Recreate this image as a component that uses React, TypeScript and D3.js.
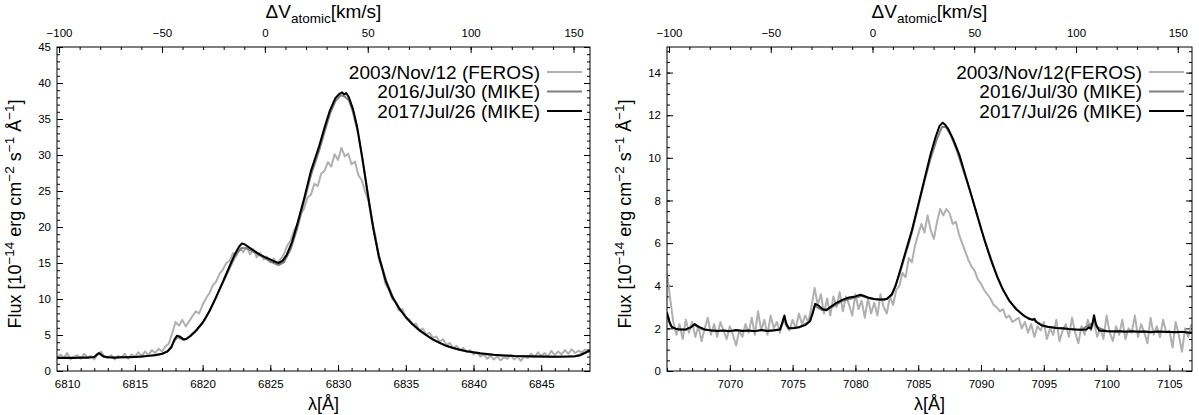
import * as d3 from 'd3';
import React, { useRef, useEffect } from 'react';

// ---- panel 1: Raman O VI 6825 ----
const waveDomain6825 = [6809.25, 6848.6];
const velDomain6825 = [-101, 158];
const fluxMax6825 = 45;
const waveTicks6825 = [6810, 6815, 6820, 6825, 6830, 6835, 6840, 6845];
const fluxTicks6825 = [0, 5, 10, 15, 20, 25, 30, 35, 40, 45];
const legend6825 = ['2003/Nov/12 (FEROS)', '2016/Jul/30 (MIKE)', '2017/Jul/26 (MIKE)'];

// FEROS spectrum, sampled every 0.25 A from 6809.0 (8 values per row = 2 A)
const ferosStart6825 = 6809.0;
const feros6825 = [
  2.1, 1.7, 2.3, 1.8, 2.5, 1.6, 2.0, 2.2,
  1.7, 2.4, 1.9, 2.1, 1.6, 2.3, 2.7, 2.0,
  1.8, 2.2, 1.6, 2.1, 1.9, 2.4, 1.7, 2.3,
  2.0, 2.6, 2.1, 2.7, 2.2, 2.9, 2.5, 3.1,
  2.7, 3.4, 3.8, 5.2, 6.8, 6.3, 7.1, 6.2,
  6.9, 7.6, 8.3, 8.0, 9.2, 10.1, 10.8, 11.9,
  12.4, 13.5, 14.1, 15.0, 15.3, 16.4, 16.0, 17.1,
  16.5, 17.3, 16.2, 16.9, 15.8, 16.4, 15.5, 15.9,
  15.1, 15.6, 14.9, 15.5, 16.2, 17.4, 18.1, 19.5,
  20.3, 21.8, 22.6, 24.1, 24.5, 26.0, 25.7, 27.4,
  27.8, 29.0, 28.4, 30.1, 29.3, 31.0, 29.8, 30.2,
  28.7, 29.1, 27.2, 26.5, 24.9, 23.6, 20.8, 18.9,
  15.6, 14.2, 12.1, 11.3, 10.0, 9.6, 8.4, 8.6,
  7.5, 7.1, 6.4, 6.6, 5.6, 5.9, 5.1, 5.3,
  4.6, 4.8, 4.1, 4.4, 3.6, 3.9, 3.2, 3.5,
  2.9, 3.2, 2.6, 2.9, 2.3, 2.6, 2.0, 2.3,
  1.7, 2.1, 1.6, 2.0, 1.5, 1.9, 1.7, 2.2,
  1.6, 2.0, 1.4, 2.1, 1.8, 2.4, 1.9, 2.6,
  2.1, 2.5, 2.0, 2.8, 2.2, 2.7, 2.3, 2.9,
  2.4, 3.0, 2.5, 2.8, 2.6, 3.0, 2.7, 3.1,
];

const mike2016_6825 = [
  [6809, 1.9], [6810, 1.85], [6811, 1.9], [6812, 1.95], [6812.35, 2.4], [6812.7, 2.0], [6813.5, 1.9],
  [6815, 1.95], [6816, 2.1], [6817, 2.35], [6817.5, 2.9], [6817.9, 4.1], [6818.15, 4.7], [6818.6, 4.3],
  [6819.1, 4.8], [6819.6, 5.7], [6820.2, 7.2], [6820.8, 9.4], [6821.4, 11.9], [6822, 14.3], [6822.5, 16.3],
  [6822.9, 17.1], [6823.3, 17.0], [6823.8, 16.5], [6824.4, 15.9], [6825, 15.2], [6825.6, 14.7], [6826, 15.1],
  [6826.5, 16.9], [6827, 19.9], [6827.5, 23.6], [6828, 27.2], [6828.6, 30.6], [6829, 33.2], [6829.4, 35.7],
  [6829.8, 37.5], [6830.2, 38.3], [6830.5, 38.1], [6830.8, 37.6], [6831.1, 36.0], [6831.5, 32.8], [6831.9, 28.2],
  [6832.3, 23.3], [6832.7, 18.9], [6833.1, 15.4], [6833.6, 12.3], [6834.1, 10.0], [6835, 7.4], [6836, 5.6],
  [6837, 4.35], [6838, 3.45], [6839, 2.9], [6840, 2.55], [6841, 2.3], [6842, 2.15], [6844, 2.02], [6846, 1.97],
  [6847.5, 2.05], [6848.4, 2.6], [6848.7, 2.8],
];

const mike2017_6825 = [
  [6809.0, 1.85], [6809.5, 1.8], [6810, 1.85], [6810.5, 1.8], [6811, 1.85], [6811.5, 1.85], [6812, 1.95],
  [6812.2, 2.3], [6812.35, 2.5], [6812.5, 2.3], [6812.7, 2.0], [6813, 1.9], [6813.5, 1.85], [6814, 1.9],
  [6814.5, 1.9], [6815, 1.95], [6815.5, 2.0], [6816, 2.1], [6816.5, 2.2], [6817, 2.4], [6817.4, 2.7],
  [6817.7, 3.3], [6817.9, 4.3], [6818.1, 4.9], [6818.3, 4.8], [6818.6, 4.4], [6818.8, 4.45], [6819.1, 4.9],
  [6819.5, 5.6], [6820, 6.7], [6820.5, 8.3], [6821, 10.3], [6821.5, 12.4], [6822, 14.6], [6822.4, 16.3],
  [6822.7, 17.3], [6822.9, 17.7], [6823.1, 17.6], [6823.4, 17.2], [6823.8, 16.7], [6824.2, 16.2], [6824.6, 15.8],
  [6825, 15.5], [6825.3, 15.2], [6825.6, 15.0], [6825.9, 15.3], [6826.2, 16.1], [6826.6, 17.9], [6827, 20.5],
  [6827.5, 24.0], [6828, 27.8], [6828.3, 29.5], [6828.6, 31.2], [6829, 33.8], [6829.4, 36.2], [6829.8, 37.9],
  [6830.1, 38.5], [6830.3, 38.7], [6830.45, 38.4], [6830.6, 38.6], [6830.8, 38.0], [6831.1, 36.4], [6831.4, 34.0],
  [6831.8, 29.5], [6832.2, 24.5], [6832.6, 19.8], [6833, 16.0], [6833.5, 12.6], [6834, 10.3], [6834.5, 8.7],
  [6835, 7.5], [6835.5, 6.5], [6836, 5.7], [6836.5, 5.0], [6837, 4.4], [6837.5, 3.9], [6838, 3.5],
  [6838.5, 3.2], [6839, 2.95], [6839.5, 2.75], [6840, 2.6], [6840.5, 2.45], [6841, 2.35], [6841.5, 2.25],
  [6842, 2.2], [6843, 2.1], [6844, 2.05], [6845, 2.0], [6846, 1.98], [6847, 2.0], [6847.5, 2.05],
  [6847.9, 2.2], [6848.2, 2.5], [6848.4, 2.7], [6848.7, 2.9],
];

// ---- panel 2: Raman O VI 7082 ----
const waveDomain7082 = [7065.0, 7106.8];
const velDomain7082 = [-101, 157];
const fluxMax7082 = 15.2;
const waveTicks7082 = [7070, 7075, 7080, 7085, 7090, 7095, 7100, 7105];
const fluxTicks7082 = [0, 2, 4, 6, 8, 10, 12, 14];
const legend7082 = ['2003/Nov/12(FEROS)', '2016/Jul/30 (MIKE)', '2017/Jul/26 (MIKE)'];

const ferosStart7082 = 7065.0;
const feros7082 = [
  4.6, 3.4, 2.3, 1.7, 2.2, 1.5, 2.4, 1.8,
  2.3, 1.6, 2.1, 1.4, 2.0, 2.5, 1.7, 2.2,
  1.6, 2.3, 1.9, 1.5, 2.1, 1.7, 1.2, 1.9,
  1.6, 2.2, 1.8, 2.5, 1.7, 2.8, 1.9, 2.4,
  1.7, 2.6, 2.0, 2.3, 1.8, 2.5, 2.1, 1.9,
  2.4, 2.0, 2.7, 2.2, 2.6, 2.3, 3.0, 3.9,
  3.1, 3.6, 2.7, 3.4, 2.6, 3.5, 3.0, 3.7,
  2.8, 3.5, 3.1, 2.6, 3.6, 2.9, 3.3, 2.5,
  3.4, 2.7, 3.2, 2.6, 3.6, 3.0, 2.7, 3.5,
  3.1, 3.8, 4.0, 4.6, 4.4, 5.3, 5.1, 5.9,
  6.4, 6.9, 6.5, 7.3, 6.6, 6.2, 7.0, 7.6,
  7.3, 7.6, 7.4, 6.9, 7.0, 6.4, 6.0, 5.6,
  5.2, 4.9, 4.7, 4.3, 4.1, 3.8, 3.6, 3.4,
  3.1, 3.0, 2.8, 2.9, 2.5, 2.6, 2.3, 2.4,
  2.5, 2.0, 2.3, 1.8, 2.2, 1.6, 2.1, 1.9,
  2.3, 1.5, 2.0, 1.7, 2.4, 1.4, 1.9, 2.2,
  1.6, 2.5, 1.8, 1.3, 2.1, 1.7, 2.4, 1.9,
  2.3, 1.6, 2.0, 1.5, 2.6, 1.8, 1.4, 2.1,
  1.7, 2.4, 1.5, 2.0, 1.8, 2.6, 1.6, 2.2,
  1.8, 1.3, 2.5, 1.7, 2.1, 1.6, 2.4, 1.8,
  1.9, 1.1, 2.3, 1.7, 0.9, 2.0, 1.6, 2.2,
];

const mike2016_7082 = [
  [7065, 2.6], [7065.3, 2.1], [7065.7, 1.97], [7066.5, 1.93], [7067.2, 2.15], [7067.8, 1.95], [7069, 1.9],
  [7070, 1.88], [7071, 1.9], [7072, 1.88], [7073, 1.9], [7074, 1.95], [7074.35, 2.45], [7074.7, 2.0],
  [7075.5, 2.05], [7076.3, 2.3], [7076.75, 3.05], [7077.4, 2.85], [7078, 2.95], [7079, 3.3], [7080, 3.45],
  [7080.5, 3.52], [7081.3, 3.38], [7082.3, 3.32], [7082.9, 3.55], [7083.5, 4.5], [7084, 5.5], [7084.5, 6.5],
  [7085, 7.7], [7085.5, 8.9], [7086, 10.0], [7086.5, 10.9], [7086.9, 11.45], [7087.2, 11.45], [7087.6, 11.05],
  [7088.1, 10.3], [7088.6, 9.4], [7089.1, 8.5], [7089.6, 7.5], [7090.1, 6.5], [7090.6, 5.6], [7091.1, 4.75],
  [7091.6, 4.0], [7092.2, 3.35], [7092.8, 2.92], [7093.5, 2.55], [7094.2, 2.4], [7095, 2.1], [7096, 2.02],
  [7097, 1.97], [7098, 1.94], [7098.9, 2.25], [7099, 2.5], [7099.2, 2.05], [7100, 1.88], [7102, 1.85],
  [7104, 1.84], [7106, 1.83], [7107, 1.8],
];

const mike2017_7082 = [
  [7065.0, 2.75], [7065.2, 2.3], [7065.4, 2.05], [7065.7, 1.98], [7066, 1.95], [7066.5, 1.95], [7066.9, 2.05],
  [7067.2, 2.2], [7067.5, 2.08], [7068, 1.95], [7068.5, 1.9], [7069, 1.88], [7069.5, 1.9], [7070, 1.87],
  [7070.5, 1.92], [7071, 1.88], [7071.5, 1.9], [7072, 1.87], [7072.5, 1.93], [7073, 1.88], [7073.5, 1.9],
  [7074, 1.95], [7074.2, 2.3], [7074.35, 2.6], [7074.5, 2.2], [7074.7, 2.0], [7075, 2.0], [7075.5, 2.05],
  [7076, 2.15], [7076.4, 2.35], [7076.6, 2.7], [7076.8, 3.15], [7077.1, 3.05], [7077.4, 2.9], [7077.7, 2.85],
  [7078, 3.0], [7078.5, 3.2], [7079, 3.35], [7079.5, 3.45], [7080, 3.5], [7080.4, 3.58], [7080.7, 3.52],
  [7081, 3.45], [7081.5, 3.38], [7082, 3.35], [7082.5, 3.38], [7082.9, 3.6], [7083.2, 4.0], [7083.6, 4.8],
  [7084, 5.6], [7084.5, 6.6], [7085, 7.8], [7085.5, 9.0], [7086, 10.2], [7086.4, 11.0], [7086.7, 11.5],
  [7086.95, 11.65], [7087.15, 11.55], [7087.4, 11.35], [7087.8, 10.85], [7088.3, 10.1], [7088.8, 9.1],
  [7089.3, 8.1], [7089.8, 7.1], [7090.3, 6.1], [7090.8, 5.2], [7091.3, 4.4], [7091.8, 3.75], [7092.3, 3.25],
  [7092.8, 2.9], [7093.3, 2.65], [7093.8, 2.45], [7094.1, 2.4], [7094.25, 2.45], [7094.4, 2.3], [7094.8, 2.15],
  [7095.3, 2.08], [7096, 2.02], [7096.5, 2.0], [7097, 1.97], [7097.5, 1.95], [7098, 1.94], [7098.4, 1.95],
  [7098.6, 2.05], [7098.75, 1.98], [7098.9, 2.3], [7099.0, 2.62], [7099.15, 2.2], [7099.4, 1.9], [7100, 1.87],
  [7100.5, 1.85], [7101, 1.87], [7101.5, 1.84], [7102, 1.86], [7102.5, 1.84], [7103, 1.85], [7103.5, 1.82],
  [7104, 1.85], [7104.5, 1.84], [7105, 1.83], [7105.5, 1.82], [7106, 1.84], [7106.5, 1.8], [7107, 1.8],
];

const ferosStep = 0.25;
const seriesColors = ['#b0b0b0', '#7f7f7f', '#000000'];
const seriesWidths = [2, 2, 2];

const panels = [
  {
    id: 'p6825', left: 57, right: 590, waveDomain: waveDomain6825, velDomain: velDomain6825,
    fluxMax: fluxMax6825, waveTicks: waveTicks6825, fluxTicks: fluxTicks6825, fluxMinor: 1,
    legend: legend6825, ferosStart: ferosStart6825, feros: feros6825,
    mike2016: mike2016_6825, mike2017: mike2017_6825,
  },
  {
    id: 'p7082', left: 667, right: 1192, waveDomain: waveDomain7082, velDomain: velDomain7082,
    fluxMax: fluxMax7082, waveTicks: waveTicks7082, fluxTicks: fluxTicks7082, fluxMinor: 0.5,
    legend: legend7082, ferosStart: ferosStart7082, feros: feros7082,
    mike2016: mike2016_7082, mike2017: mike2017_7082,
  },
];

const top = 47, bottom = 371;
const font = 'Liberation Sans, Arial, Helvetica, sans-serif';

function drawPanel(svg, p) {
  const w = p.right - p.left;
  const h = bottom - top;
  const g = svg.append('g').attr('transform', `translate(${p.left},${top})`);

  const x = d3.scaleLinear().domain(p.waveDomain).range([0, w]);
  const v = d3.scaleLinear().domain(p.velDomain).range([0, w]);
  const y = d3.scaleLinear().domain([0, p.fluxMax]).range([h, 0]);

  g.append('clipPath').attr('id', 'clip-' + p.id)
    .append('rect').attr('width', w).attr('height', h);

  // minor ticks
  const minorX = d3.range(Math.ceil(p.waveDomain[0]), p.waveDomain[1], 1);
  const minorV = d3.range(-100, p.velDomain[1], 10);
  const minorY = d3.range(0, p.fluxMax, p.fluxMinor);

  const styleAxis = (sel) => {
    sel.select('.domain').remove();
    sel.selectAll('line').attr('stroke', '#000').attr('stroke-width', 1);
    sel.selectAll('text').attr('font-family', font).attr('font-size', 11.5).attr('fill', '#000');
  };

  g.append('g').attr('transform', `translate(0,${h})`)
    .call(d3.axisBottom(x).tickValues(minorX).tickSize(-3).tickFormat(() => '')).call(styleAxis);
  g.append('g').attr('transform', `translate(0,${h})`)
    .call(d3.axisBottom(x).tickValues(p.waveTicks).tickSize(-6).tickPadding(9).tickFormat(d3.format('d')))
    .call(styleAxis);

  g.append('g')
    .call(d3.axisTop(v).tickValues(minorV).tickSize(-3).tickFormat(() => '')).call(styleAxis);
  g.append('g')
    .call(d3.axisTop(v).tickValues([-100, -50, 0, 50, 100, 150]).tickSize(-6).tickPadding(10)
      .tickFormat((d) => (d < 0 ? '\u2212' + Math.abs(d) : String(d))))
    .call(styleAxis);

  g.append('g')
    .call(d3.axisLeft(y).tickValues(minorY).tickSize(-3).tickFormat(() => '')).call(styleAxis);
  g.append('g')
    .call(d3.axisLeft(y).tickValues(p.fluxTicks).tickSize(-6).tickPadding(6)).call(styleAxis);
  g.append('g').attr('transform', `translate(${w},0)`)
    .call(d3.axisRight(y).tickValues(minorY).tickSize(-3).tickFormat(() => '')).call(styleAxis);
  g.append('g').attr('transform', `translate(${w},0)`)
    .call(d3.axisRight(y).tickValues(p.fluxTicks).tickSize(-6).tickFormat(() => '')).call(styleAxis);

  // spectra
  const line = d3.line().x((d) => x(d[0])).y((d) => y(d[1]));
  const ferosPts = p.feros.map((f, i) => [p.ferosStart + i * ferosStep, f]);
  const series = [ferosPts, p.mike2016, p.mike2017];
  const plot = g.append('g').attr('clip-path', `url(#clip-${p.id})`);
  series.forEach((s, i) => {
    plot.append('path').datum(s).attr('d', line).attr('fill', 'none')
      .attr('stroke', seriesColors[i]).attr('stroke-width', seriesWidths[i])
      .attr('stroke-linejoin', 'round');
  });

  // frame
  g.append('rect').attr('width', w).attr('height', h)
    .attr('fill', 'none').attr('stroke', '#000').attr('stroke-width', 1);

  // legend
  p.legend.forEach((label, i) => {
    const ly = 25 + i * 19.5;
    g.append('text').attr('x', w - 50).attr('y', ly).attr('dy', '0.35em')
      .attr('text-anchor', 'end').attr('font-family', font).attr('font-size', 19).text(label);
    g.append('line').attr('x1', w - 43).attr('x2', w - 8).attr('y1', ly).attr('y2', ly)
      .attr('stroke', seriesColors[i]).attr('stroke-width', seriesWidths[i]);
  });

  // bottom title
  svg.append('text').attr('x', p.left + w / 2).attr('y', 410)
    .attr('text-anchor', 'middle').attr('font-family', font).attr('font-size', 18)
    .text('\u03bb[\u00c5]');

  // top title
  const tt = svg.append('text').attr('x', p.left + w / 2).attr('y', 18)
    .attr('text-anchor', 'middle').attr('font-family', font).attr('font-size', 19);
  tt.append('tspan').text('\u0394V');
  tt.append('tspan').attr('font-size', 13.5).attr('dy', 5).text('atomic');
  tt.append('tspan').attr('dy', -5).text('[km/s]');

  // y title
  const yt = svg.append('text')
    .attr('transform', `translate(${p.left - 36},${top + h / 2 + 5}) rotate(-90)`)
    .attr('text-anchor', 'middle').attr('font-family', font).attr('font-size', 18);
  const parts = [
    ['Flux [10', 0], ['\u221214', 1], [' erg cm', 0], ['\u22122', 1],
    [' s', 0], ['\u22121', 1], [' \u00c5', 0], ['\u22121', 1], [']', 0],
  ];
  let prev = 0;
  parts.forEach(([t, sup]) => {
    const ts = yt.append('tspan').text(t);
    const dy = sup ? -7 : 0;
    ts.attr('dy', dy - prev);
    if (sup) ts.attr('font-size', 13.5);
    prev = dy;
  });
}

function App() {
  const ref = useRef(null);

  useEffect(() => {
    const svg = d3.select(ref.current);
    svg.selectAll('*').remove();
    panels.forEach((p) => drawPanel(svg, p));
  }, []);

  return (
    <svg ref={ref} width={1199} height={415}
      style={{ position: 'absolute', left: 0, top: 0, background: '#fff' }} />
  );
}

export default App;
